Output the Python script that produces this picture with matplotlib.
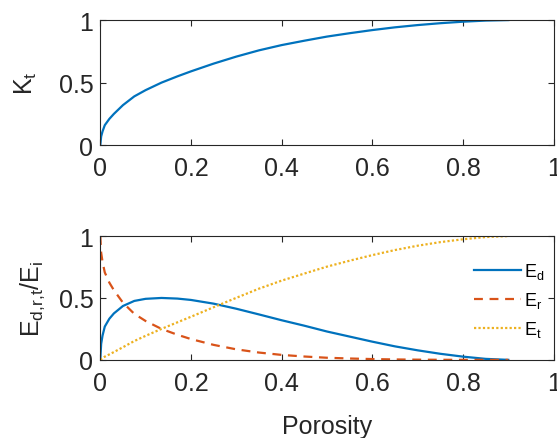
import matplotlib
matplotlib.use('Agg')
import matplotlib.pyplot as plt

# porosity samples and values
porosity = [0, 0.002, 0.005, 0.01, 0.02, 0.03, 0.05, 0.075, 0.1, 0.135, 0.17, 0.2,
            0.25, 0.3, 0.35, 0.4, 0.45, 0.5, 0.55, 0.6, 0.65, 0.7, 0.75, 0.8, 0.85, 0.9]
k_t = [0, 0.07, 0.11, 0.16, 0.21, 0.25, 0.32, 0.39, 0.44, 0.50, 0.55, 0.59,
       0.652, 0.708, 0.758, 0.80, 0.835, 0.868, 0.895, 0.92, 0.942, 0.96, 0.975, 0.987, 0.996, 1.0]
e_d = [0, 0.130, 0.196, 0.269, 0.332, 0.375, 0.435, 0.476, 0.493, 0.500, 0.495, 0.484,
       0.454, 0.413, 0.367, 0.320, 0.276, 0.229, 0.188, 0.147, 0.109, 0.077, 0.049, 0.026, 0.008, 0]
e_r = [1, 0.865, 0.792, 0.706, 0.624, 0.563, 0.462, 0.372, 0.314, 0.250, 0.203, 0.168,
       0.121, 0.085, 0.059, 0.040, 0.027, 0.017, 0.011, 0.0064, 0.0034, 0.0016, 0.0006, 0.0002, 0, 0]
e_t = [0, 0.005, 0.012, 0.026, 0.044, 0.063, 0.102, 0.152, 0.194, 0.250, 0.303, 0.348,
       0.425, 0.501, 0.575, 0.640, 0.697, 0.753, 0.801, 0.846, 0.887, 0.922, 0.951, 0.974, 0.992, 1.0]

plt.rcParams['font.family'] = ['Liberation Sans', 'DejaVu Sans']
plt.rcParams['mathtext.default'] = 'regular'

blue = '#0072BD'
orange = '#D95319'
yellow = '#EDB120'
frame = '#262626'

fig = plt.figure(figsize=(5.57, 4.39), dpi=100)
ax1 = fig.add_axes([0.180, 0.667, 0.814, 0.285])
ax2 = fig.add_axes([0.180, 0.178, 0.814, 0.282])

ax1.plot(porosity, k_t, color=blue, lw=1.6)
ax1.set_ylabel('$K_t$', fontsize=18, color=frame, labelpad=14)

ax2.plot(porosity, e_d, color=blue, lw=1.6, label='$E_d$')
ax2.plot(porosity, e_r, color=orange, lw=1.6, ls=(0, (4, 3)), label='$E_r$')
ax2.plot(porosity, e_t, color=yellow, lw=1.6, ls=(0, (1, 1)), label='$E_t$')
ax2.set_ylabel('$E_{d{,}r{,}t}/E_i$', fontsize=18, color=frame, labelpad=8)
ax2.set_xlabel('Porosity', fontsize=18, color=frame, labelpad=14)
ax2.legend(loc='center right', bbox_to_anchor=(1.015, 0.48), frameon=False,
           fontsize=13, handlelength=2.6, handletextpad=0.15, labelspacing=0.5)

for ax in (ax1, ax2):
    ax.set_xlim(0, 1)
    ax.set_ylim(0, 1)
    ax.set_xticks([0, 0.2, 0.4, 0.6, 0.8, 1])
    ax.set_xticklabels(['0', '0.2', '0.4', '0.6', '0.8', '1'])
    ax.set_yticks([0, 0.5, 1])
    ax.set_yticklabels(['0', '0.5', '1'])
    ax.tick_params(direction='in', top=True, right=True, length=4, width=0.8,
                   labelsize=18, colors=frame)
    ax.tick_params(axis='x', pad=8)
    ax.tick_params(axis='y', pad=5)
    for s in ax.spines.values():
        s.set_color(frame)
        s.set_linewidth(0.8)

fig.savefig('out.png', dpi=100)
